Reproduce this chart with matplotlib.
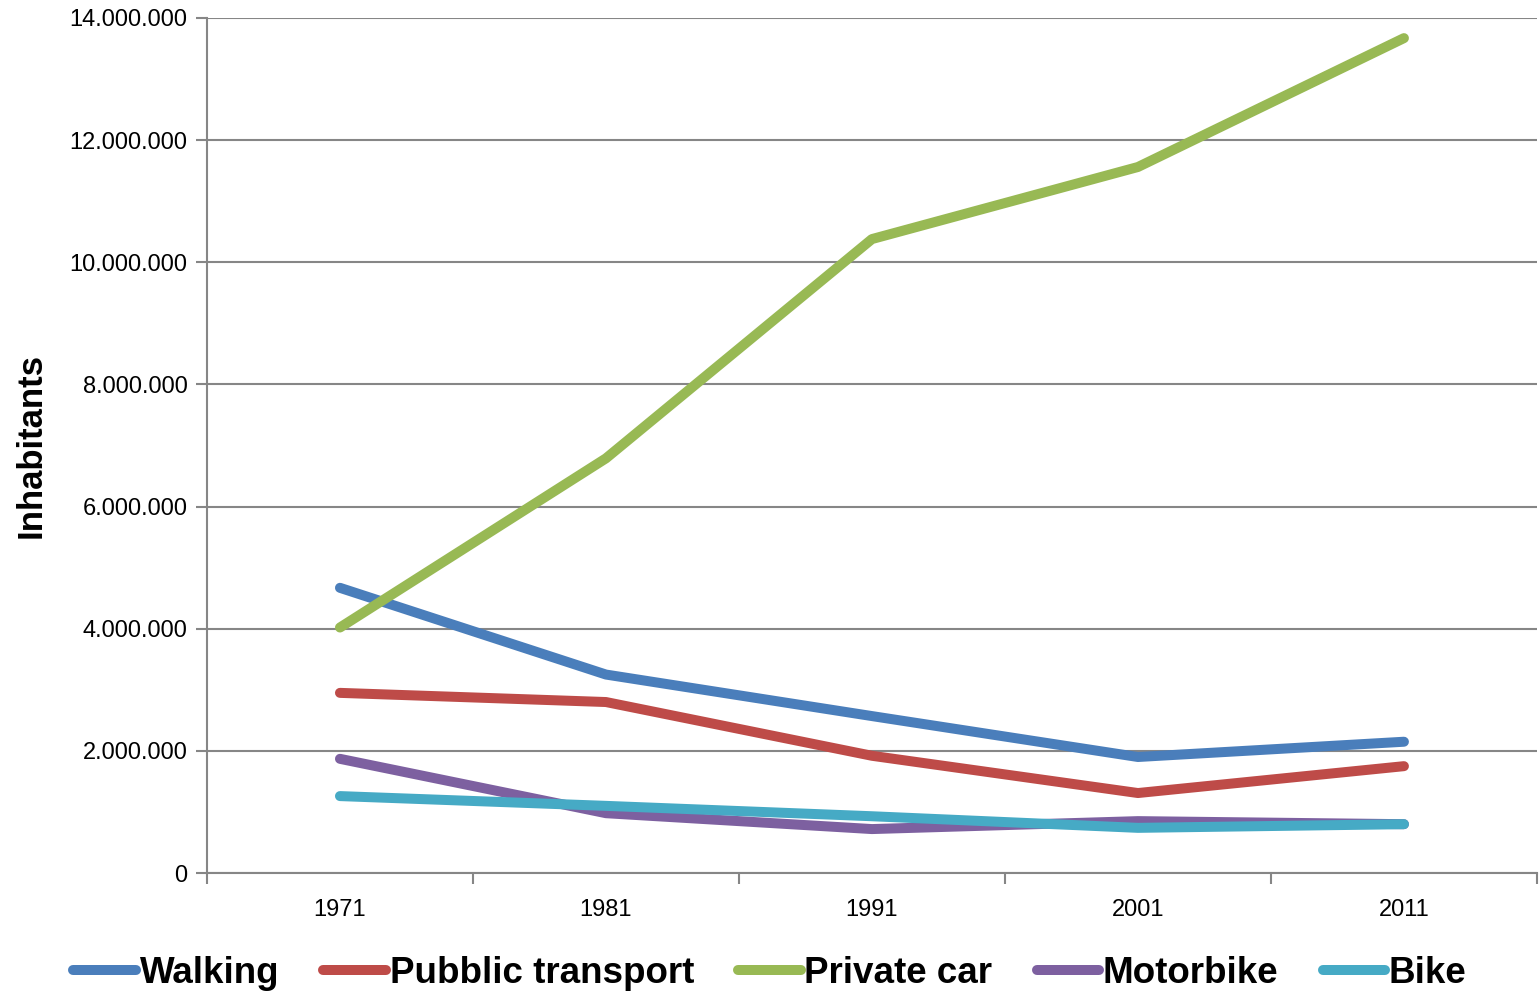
import matplotlib
matplotlib.use("Agg")
import matplotlib.pyplot as plt
from matplotlib.ticker import FuncFormatter, FixedLocator

# commuting mode by year (inhabitants)
years = ["1971", "1981", "1991", "2001", "2011"]
walking = [4670000, 3250000, 2570000, 1900000, 2150000]
public_transport = [2950000, 2800000, 1920000, 1310000, 1750000]
private_car = [4020000, 6790000, 10380000, 11560000, 13670000]
motorbike = [1870000, 980000, 720000, 850000, 800000]
bike = [1260000, 1100000, 930000, 740000, 800000]

series = [
    ("Walking", walking, "#4A7EBB"),
    ("Pubblic transport", public_transport, "#BE4B48"),
    ("Private car", private_car, "#98B954"),
    ("Motorbike", motorbike, "#7D60A0"),
    ("Bike", bike, "#46AAC5"),
]

plt.rcParams["font.family"] = ["Liberation Sans", "DejaVu Sans"]

fig = plt.figure(figsize=(15.4, 9.93), dpi=100)
ax = fig.add_axes([0.1344, 0.1208, 0.8636, 0.8611])

x = list(range(len(years)))
for name, vals, col in series:
    ax.plot(x, vals, color=col, lw=7.2, solid_capstyle="round",
            solid_joinstyle="round", label=name)

ax.set_xlim(-0.5, len(years) - 0.5)
ax.set_ylim(0, 14000000)
ax.set_yticks(range(0, 14000001, 2000000))
ax.yaxis.set_major_formatter(FuncFormatter(lambda v, p: f"{int(v):,}".replace(",", ".")))
ax.grid(axis="y", color="#868686", lw=1.5)
ax.set_axisbelow(True)

# ticks between categories, labels under categories
ax.xaxis.set_major_locator(FixedLocator([i - 0.5 for i in range(len(years) + 1)]))
ax.xaxis.set_minor_locator(FixedLocator(x))
ax.set_xticklabels([], minor=False)
ax.set_xticklabels(years, minor=True)
ax.tick_params(axis="x", which="major", length=8, width=1.5, color="#868686")
ax.tick_params(axis="x", which="minor", length=0, pad=19, labelsize=17)
ax.tick_params(axis="y", length=8, width=1.5, color="#868686", labelsize=17, pad=6)

for s in ["top", "right"]:
    ax.spines[s].set_visible(False)
for s in ["left", "bottom"]:
    ax.spines[s].set_color("#868686")
    ax.spines[s].set_linewidth(1.5)

ax.set_ylabel("Inhabitants", fontsize=25, fontweight="bold", labelpad=16)

leg = fig.legend(loc="center", bbox_to_anchor=(770 / 1540, 0.02), ncol=5,
                 frameon=False, handlelength=1.7, handletextpad=0.1,
                 columnspacing=1.2, borderpad=0, borderaxespad=0,
                 prop={"size": 26.5, "weight": "bold"})

fig.savefig("out.png", dpi=100)
